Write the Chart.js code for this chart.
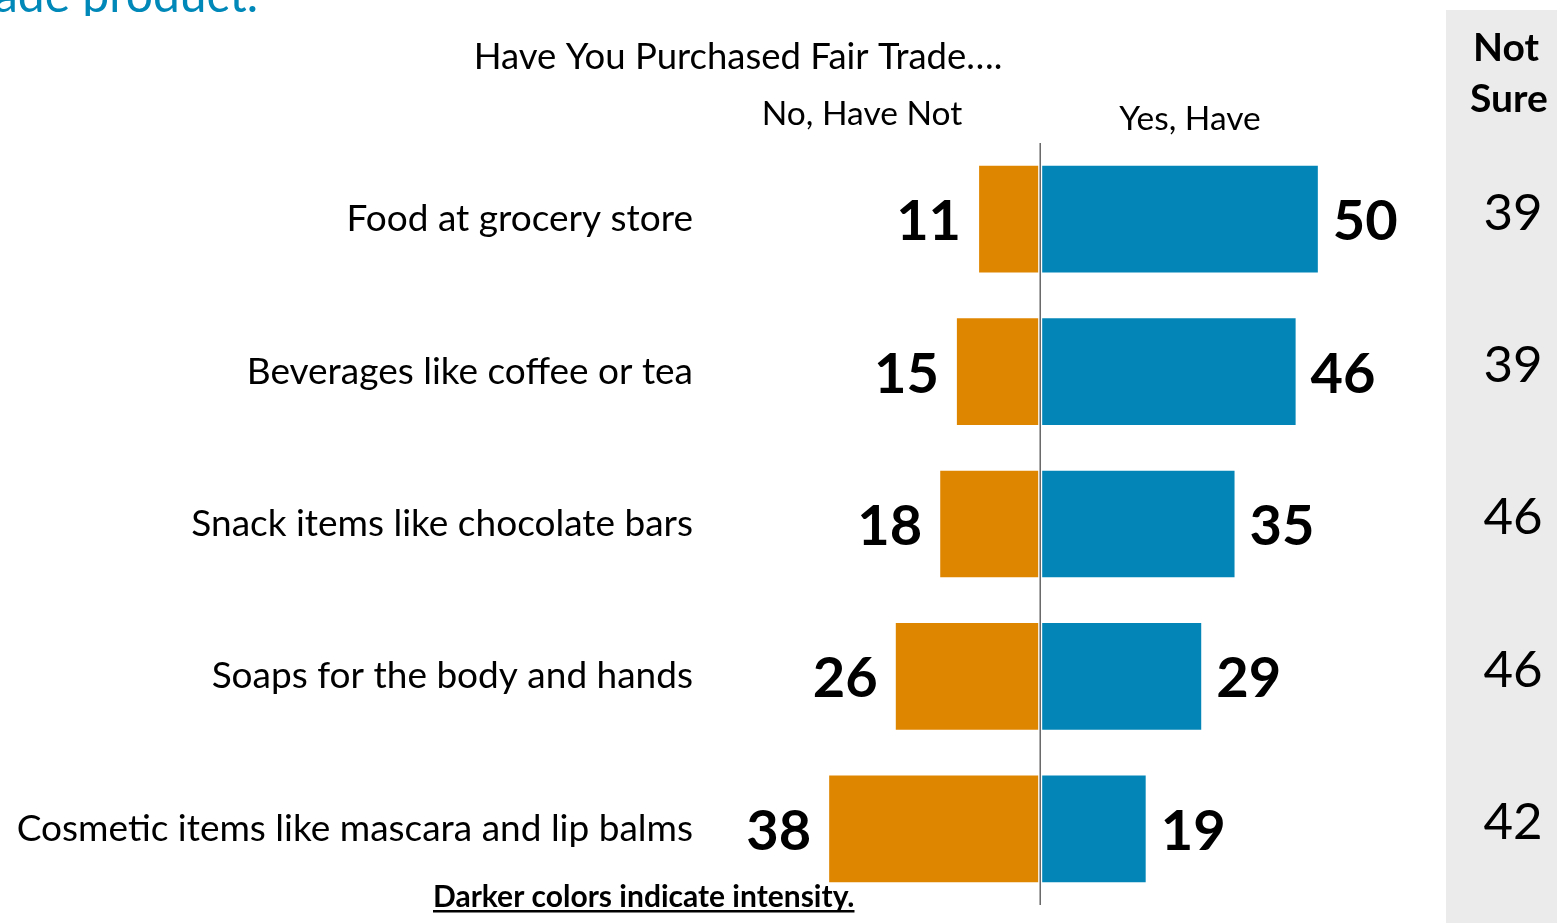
<!DOCTYPE html>
<html>
<head>
<meta charset="utf-8">
<script src="https://cdn.jsdelivr.net/npm/chart.js@4.4.1/dist/chart.umd.min.js"></script>
<style>
  html, body { margin: 0; padding: 0; background: #fff; overflow: hidden; }
  #wrap { width: 1557px; height: 923px; position: relative; }
</style>
</head>
<body>
<div id="wrap"><canvas id="chart" width="1557" height="923"></canvas></div>
<script>
// survey rows
const categories = [
    'Food at grocery store',
    'Beverages like coffee or tea',
    'Snack items like chocolate bars',
    'Soaps for the body and hands',
    'Cosmetic items like mascara and lip balms'
];
const haveNot = [11, 15, 18, 26, 38];
const have = [50, 46, 35, 29, 19];
const notSure = [39, 39, 46, 46, 42];

const ORANGE = '#df8600';
const BLUE = '#0386b7';
const FONT = 'Lato, "Open Sans", sans-serif';

// value labels next to each bar, plus the header texts and the "Not Sure" column
const decorations = {
    id: 'decorations',
    beforeDatasetsDraw(chart) {
        const ctx = chart.ctx;
        ctx.save();
        // grey "Not Sure" panel
        ctx.fillStyle = '#ebebeb';
        ctx.fillRect(1446, 10, 111, 913);
        ctx.restore();
    },
    afterDatasetsDraw(chart) {
        const ctx = chart.ctx;
        const xScale = chart.scales.x;
        const yScale = chart.scales.y;
        const zero = xScale.getPixelForValue(0);
        const area = chart.chartArea;

        ctx.save();
        // divider line
        ctx.fillStyle = '#fff';
        ctx.fillRect(zero - 2, area.top, 4, area.bottom - area.top);
        ctx.strokeStyle = '#404040';
        ctx.lineWidth = 1.2;
        ctx.beginPath();
        ctx.moveTo(zero, area.top);
        ctx.lineTo(zero, area.bottom);
        ctx.stroke();

        // bar value labels
        ctx.fillStyle = '#000';
        ctx.font = 'bold 56px ' + FONT;
        ctx.textBaseline = 'middle';
        chart.getDatasetMeta(0).data.forEach((bar, i) => {
            ctx.textAlign = 'right';
            ctx.fillText(String(haveNot[i]), bar.x - 18, bar.y + 3);
        });
        chart.getDatasetMeta(1).data.forEach((bar, i) => {
            ctx.textAlign = 'left';
            ctx.fillText(String(have[i]), bar.x + 15, bar.y + 3);
        });

        // Not Sure column
        ctx.textAlign = 'center';
        ctx.font = 'bold 39px ' + FONT;
        ctx.fillText('Not', 1506, 48);
        ctx.fillText('Sure', 1509, 99);
        ctx.font = '51px ' + FONT;
        notSure.forEach((v, i) => {
            const y = yScale.getPixelForValue(i);
            ctx.fillText(String(v), 1513, y - 6);
        });

        // headings
        ctx.font = '36.5px ' + FONT;
        ctx.fillText('Have You Purchased Fair Trade….', 738, 57);
        ctx.font = '33.5px ' + FONT;
        ctx.fillText('No, Have Not', 862, 114);
        ctx.fillText('Yes, Have', 1190, 119);

        // slide title, cut off by the top edge
        ctx.save();
        ctx.beginPath();
        ctx.rect(0, 0, 300, 16);
        ctx.clip();
        ctx.fillStyle = '#0088b9';
        ctx.font = '48px ' + FONT;
        ctx.textAlign = 'right';
        ctx.textBaseline = 'alphabetic';
        ctx.fillText('Fair Trade product.', 258, 12);
        ctx.restore();

        // footnote
        ctx.fillStyle = '#000';
        ctx.font = 'bold 30px ' + FONT;
        ctx.textAlign = 'left';
        ctx.textBaseline = 'alphabetic';
        ctx.fillText('Darker colors indicate intensity.', 433, 907);
        const w = ctx.measureText('Darker colors indicate intensity.').width;
        ctx.fillRect(433, 910, w, 2.5);
        ctx.restore();
    }
};

new Chart(document.getElementById('chart').getContext('2d'), {
    type: 'bar',
    data: {
        labels: categories,
        datasets: [
            {
                label: 'No, Have Not',
                data: haveNot.map(v => -v),
                backgroundColor: ORANGE,
                borderWidth: 0
            },
            {
                label: 'Yes, Have',
                data: have,
                backgroundColor: BLUE,
                borderWidth: 0
            }
        ]
    },
    options: {
        indexAxis: 'y',
        responsive: false,
        animation: false,
        layout: {
            padding: { left: 0, right: 117, top: 143, bottom: 18 }
        },
        datasets: {
            bar: { categoryPercentage: 0.7, barPercentage: 1.0 }
        },
        scales: {
            x: {
                stacked: true,
                min: -60,
                max: 72,
                display: false
            },
            y: {
                stacked: true,
                grid: { display: false, drawTicks: false },
                border: { display: false },
                afterFit(scale) {
                    scale.width = 707;
                    scale.paddingTop = 0;
                    scale.paddingBottom = 0;
                },
                ticks: {
                    color: '#000',
                    padding: 14,
                    font: { family: FONT, size: 37 }
                }
            }
        },
        plugins: {
            legend: { display: false },
            tooltip: { enabled: false }
        }
    },
    plugins: [decorations]
});
</script>
</body>
</html>
